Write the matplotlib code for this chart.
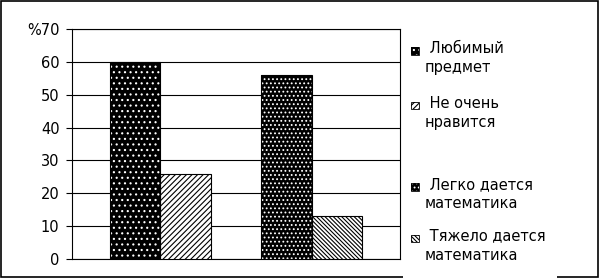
import numpy as np
import matplotlib
matplotlib.use("Agg")
import matplotlib.pyplot as plt
from matplotlib.patches import Rectangle, Patch
from matplotlib.legend_handler import HandlerPatch

# Survey results, percent of pupils
groups = ["Отношение к предмету", "Трудность"]
left_values = [60, 56]
right_values = [26, 13]
legend_labels = [" Любимый\nпредмет", " Не очень\nнравится",
                 " Легко дается\nматематика", " Тяжело дается\nматематика"]
y_ticks = [0, 10, 20, 30, 40, 50, 60, 70]
y_tick_labels = ["0", "10", "20", "30", "40", "50", "60", "%70"]

# fill styles: (face, hatch colour, hatch)
styles = [("black", "white", "..."),
          ("white", "black", "//////"),
          ("black", "white", "...."),
          ("white", "black", "\\\\\\\\\\\\\\\\")]
left_styles = [styles[0], styles[2]]
right_styles = [styles[1], styles[3]]

plt.rcParams["font.family"] = ["DejaVu Sans"]
plt.rcParams["hatch.linewidth"] = 0.8

fig = plt.figure(figsize=(6.0, 2.79), dpi=100)
ax = fig.add_axes([72 / 600, 20 / 279, 328 / 600, 230 / 279])

x = np.arange(len(groups))
w = 0.334


def draw_bars(xpos, vals, stys):
    for xi, v, (fc, hc, h) in zip(xpos, vals, stys):
        ax.bar(xi, v, w, color=fc, edgecolor=hc, hatch=h, linewidth=0, zorder=3)
        ax.bar(xi, v, w, fill=False, edgecolor="black", linewidth=0.8, zorder=4)


draw_bars(x - w / 2, left_values, left_styles)
draw_bars(x + w / 2, right_values, right_styles)

ax.set_xlim(-0.586, 1.586)
ax.set_ylim(0, 70)
ax.set_yticks(y_ticks)
ax.set_yticklabels(y_tick_labels, fontsize=10.5)
ax.set_xticks([])
ax.tick_params(axis="y", direction="out", length=4.5, width=0.8, pad=4.5, colors="black")
ax.yaxis.grid(True, color="black", linewidth=0.8)
ax.set_axisbelow(True)
for s in ax.spines.values():
    s.set_color("black")
    s.set_linewidth(0.8)


class FirstLineHandler(HandlerPatch):
    """Small pattern square aligned with the first line of a two-line label."""

    def create_artists(self, legend, orig_handle, xdescent, ydescent,
                       width, height, fontsize, trans):
        size = 0.52 * fontsize
        y0 = height / 2 + 0.55 * fontsize
        xy = (-xdescent + (width - size) / 2, y0 - size / 2)
        fill = Rectangle(xy, size, size,
                         facecolor=orig_handle.get_facecolor(),
                         edgecolor=orig_handle.get_edgecolor(),
                         hatch=orig_handle.get_hatch(), linewidth=0,
                         transform=trans)
        edge = Rectangle(xy, size, size, fill=False, edgecolor="black",
                         linewidth=0.6, transform=trans)
        return [fill, edge]


def make_handle(sty):
    fc, hc, h = sty
    return Patch(facecolor=fc, edgecolor=hc, hatch=h)


handles = [make_handle(s) for s in styles]
legend_kw = dict(fontsize=10.5, frameon=False, handlelength=0.55, handletextpad=0.4,
                 borderaxespad=0, borderpad=0,
                 handler_map={Patch: FirstLineHandler()})

leg1 = fig.legend(handles[:2], legend_labels[:2], loc="upper left", labelspacing=1.4,
                  bbox_to_anchor=(411 / 600, 1 - 41 / 279), **legend_kw)
leg2 = fig.legend(handles[2:], legend_labels[2:], loc="upper left", labelspacing=1.2,
                  bbox_to_anchor=(411 / 600, 1 - 177 / 279), **legend_kw)
for leg in (leg1, leg2):
    for t in leg.get_texts():
        t.set_linespacing(1.35)

# figure frame, open where the legend panel sits at the bottom
fig.patches.append(Rectangle((1 / 600, 2 / 279), 597 / 600, 276 / 279,
                             transform=fig.transFigure, fill=False,
                             edgecolor="black", linewidth=1.2, zorder=0))
fig.patches.append(Rectangle((403 / 600, 0), 154 / 600, 8 / 279,
                             transform=fig.transFigure, facecolor="white",
                             edgecolor="none", zorder=1))

fig.savefig("out.png", dpi=100)
